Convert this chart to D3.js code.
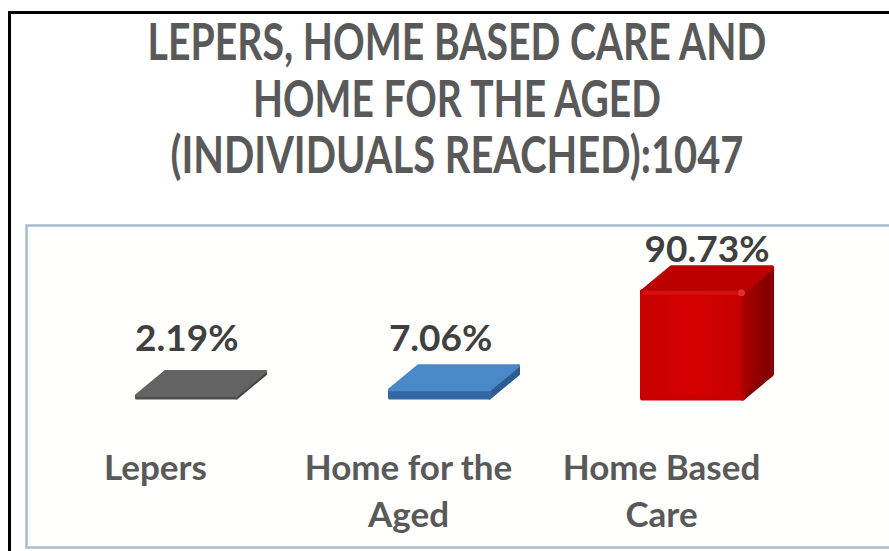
<!DOCTYPE html>
<html>
<head>
<meta charset="utf-8">
<script src="https://cdn.jsdelivr.net/npm/d3@7"></script>
<style>
  html, body { margin: 0; padding: 0; background: #fff; }
  svg { display: block; }
</style>
</head>
<body>
<div id="chart"></div>
<script>
// data
const titleLines = ["LEPERS, HOME BASED CARE AND", "HOME FOR THE AGED", "(INDIVIDUALS REACHED):1047"];
const categories = ["Lepers", "Home for the Aged", "Home Based Care"];
const categoryLines = [["Lepers"], ["Home for the", "Aged"], ["Home Based", "Care"]];
const values = [2.19, 7.06, 90.73];
const valueLabels = ["2.19%", "7.06%", "90.73%"];

const width = 889, height = 551;

// colours for each bar: front, top, side
const barColors = [
    { front: "#4e4e4e", top: "#636363", side: "#444444" },
    { front: "#3468a2", top: "#4a89c9", side: "#2d5d92" },
    { front: "#d00000", top: "#bb0000", side: "#870000" }
];

const svg = d3.select("#chart")
    .append("svg")
    .attr("width", width)
    .attr("height", height);

const defs = svg.append("defs");

// gradients for the big red box
const gFront = defs.append("linearGradient").attr("id", "redFront")
    .attr("x1", "0%").attr("y1", "0%").attr("x2", "100%").attr("y2", "0%");
gFront.append("stop").attr("offset", "0%").attr("stop-color", "#c60000");
gFront.append("stop").attr("offset", "50%").attr("stop-color", "#d60000");
gFront.append("stop").attr("offset", "100%").attr("stop-color", "#c40000");

const gSide = defs.append("linearGradient").attr("id", "redSide")
    .attr("x1", "0%").attr("y1", "0%").attr("x2", "100%").attr("y2", "0%");
gSide.append("stop").attr("offset", "0%").attr("stop-color", "#ad0000");
gSide.append("stop").attr("offset", "100%").attr("stop-color", "#7a0000");

// outer black frame (runs off the right and bottom edge)
svg.append("path")
    .attr("d", `M9.5,${height + 5} L9.5,12.5 L${width + 5},12.5`)
    .attr("fill", "none")
    .attr("stroke", "#000")
    .attr("stroke-width", 3);

// title - Calibri-like, squeezed to the reference widths
const titleWidths = [619, 408, 573];
const title = svg.append("g").attr("class", "title");
titleLines.forEach((line, i) => {
    const t = title.append("text")
        .attr("x", 0)
        .attr("y", 0)
        .attr("text-anchor", "middle")
        .attr("font-family", "Lato, 'Liberation Sans', sans-serif")
        .attr("font-weight", "bold")
        .attr("font-size", "52px")
        .attr("fill", "#595959")
        .text(line);
    const w = t.node().getComputedTextLength();
    t.attr("transform", `translate(457,${60 + i * 56.5}) scale(${titleWidths[i] / w},1)`);
});

// plot area box
svg.append("rect")
    .attr("x", 26.5)
    .attr("y", 225.5)
    .attr("width", 900)
    .attr("height", 322)
    .attr("fill", "#fffffd")
    .attr("stroke", "#a7bdd1")
    .attr("stroke-width", 2.5);

// scales
const x = d3.scaleBand()
    .domain(categories)
    .range([60, 819])
    .padding(0);

const y = d3.scaleLinear()
    .domain([0, 100])
    .range([398, 281]);

const barWidth = 100;
const depthX = 29, depthY = 24;
const hMax = y(0) - y(d3.max(values));

const bars = svg.append("g").attr("class", "bars");

categories.forEach((cat, i) => {
    const x0 = x(cat) + (x.bandwidth() - barWidth) / 2;
    const x1 = x0 + barWidth;
    const yb = y(0);
    const yt = y(values[i]);
    const c = barColors[i];
    const big = i === 2;
    const sw = big ? 5 : 3;

    const g = bars.append("g");

    // side face
    g.append("path")
        .attr("d", `M${x1},${yt} L${x1 + depthX},${yt - depthY} L${x1 + depthX},${yb - depthY} L${x1},${yb} Z`)
        .attr("fill", big ? "url(#redSide)" : c.side)
        .attr("stroke", big ? "#8a0000" : c.side)
        .attr("stroke-width", sw)
        .attr("stroke-linejoin", "round");

    // front face
    g.append("path")
        .attr("d", `M${x0},${yt} L${x1},${yt} L${x1},${yb} L${x0},${yb} Z`)
        .attr("fill", big ? "url(#redFront)" : c.front)
        .attr("stroke", big ? "#c80000" : c.front)
        .attr("stroke-width", sw)
        .attr("stroke-linejoin", "round");

    // top face
    g.append("path")
        .attr("d", `M${x0},${yt} L${x1},${yt} L${x1 + depthX},${yt - depthY} L${x0 + depthX},${yt - depthY} Z`)
        .attr("fill", c.top)
        .attr("stroke", c.top)
        .attr("stroke-width", sw)
        .attr("stroke-linejoin", "round");

    if (big) {
        // soft highlight along the rounded top front edge
        g.append("line")
            .attr("x1", x0 + 2).attr("y1", yt + 1)
            .attr("x2", x1 - 4).attr("y2", yt + 1)
            .attr("stroke", "#dc1414")
            .attr("stroke-width", 4)
            .attr("stroke-linecap", "round")
            .attr("opacity", 0.8);
        g.append("line")
            .attr("x1", x1 + 1).attr("y1", yt + 3)
            .attr("x2", x1 + 1).attr("y2", yb - 6)
            .attr("stroke", "#a80000")
            .attr("stroke-width", 4)
            .attr("stroke-linecap", "round");
        g.append("circle")
            .attr("cx", x1 - 1).attr("cy", yt + 1)
            .attr("r", 3.5)
            .attr("fill", "#ec3636")
            .attr("opacity", 0.8);
    }

    // value label
    const h = yb - yt;
    svg.append("text")
        .attr("x", x0 + barWidth / 2 + (depthX / 2) * (h / hMax))
        .attr("y", Math.min(yt - 30, yb - 47))
        .attr("text-anchor", "middle")
        .attr("font-family", "Lato, 'Liberation Sans', sans-serif")
        .attr("font-weight", "bold")
        .attr("font-size", "37px")
        .attr("fill", "#404040")
        .text(valueLabels[i]);

    // category label
    const lbl = svg.append("text")
        .attr("text-anchor", "middle")
        .attr("font-family", "Lato, 'Liberation Sans', sans-serif")
        .attr("font-weight", "bold")
        .attr("font-size", "35px")
        .attr("fill", "#595959");
    categoryLines[i].forEach((line, j) => {
        lbl.append("tspan")
            .attr("x", x0 + barWidth / 2 - 31)
            .attr("y", 480 + j * 47)
            .text(line);
    });
});
</script>
</body>
</html>
